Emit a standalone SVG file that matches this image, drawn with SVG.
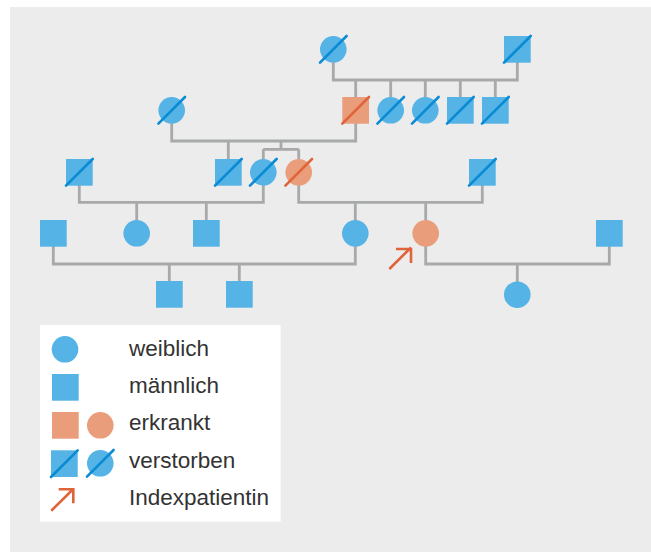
<svg xmlns="http://www.w3.org/2000/svg" width="651" height="552" viewBox="0 0 651 552">
<defs>
<style>
.m{fill:#55b3e6}
.f{fill:#e99d7a}
.ln{stroke:#a8a9ab;stroke-width:2.8;fill:none}
.d{stroke:#0a8bd4;stroke-width:2.6;stroke-linecap:round}
.do{stroke:#e0643a;stroke-width:2.6;stroke-linecap:round}
.ar{stroke:#e0643a;stroke-width:2.6;fill:none}
.t{font-family:"Liberation Sans",Arial,sans-serif;font-size:22.5px;fill:#333333}
</style>
</defs>
<rect x="0" y="0" width="651" height="552" fill="#ffffff"/>
<rect x="10" y="7" width="641" height="545" fill="#ebeceb"/>
<g id="connectors">
<path class="ln" d="M333.3,62 V80 H517.3 V62"/>
<path class="ln" d="M355.7,80 V97 M390.7,80 V97 M425.3,80 V97 M460.3,80 V97 M495.3,80 V97"/>
<path class="ln" d="M171.7,123 V141 H355.7 V123"/>
<path class="ln" d="M228.3,141 V159 M281,141 V149.3 M263.3,149.3 H298.7 M263.3,149.3 V159 M298.7,149.3 V159"/>
<path class="ln" d="M79.3,185 V202.3 H263.3 V185"/>
<path class="ln" d="M136.7,202.3 V221 M206.3,202.3 V221"/>
<path class="ln" d="M298.7,185 V202.3 H482.3 V185"/>
<path class="ln" d="M355.3,202.3 V221 M425.7,202.3 V221"/>
<path class="ln" d="M53.3,246 V264 H355.3 V246"/>
<path class="ln" d="M169.3,264 V281 M239.3,264 V281"/>
<path class="ln" d="M425.7,246 V264 H609.3 V246"/>
<path class="ln" d="M517.3,264 V282"/>
</g>
<g id="g1-f">
<circle class="m" cx="333.3" cy="49.3" r="13.3"/>
<line class="d" x1="320" y1="62.6" x2="346.6" y2="36"/>
</g>
<g id="g1-m">
<rect class="m" x="504" y="36" width="26.7" height="26.7"/>
<line class="d" x1="504" y1="62.7" x2="530.7" y2="36"/>
</g>
<g id="g2-f">
<circle class="m" cx="171.7" cy="110.3" r="13.3"/>
<line class="d" x1="158.4" y1="123.6" x2="185" y2="97"/>
</g>
<g id="g2-m-affected">
<rect class="f" x="342.3" y="97" width="26.7" height="26.7"/>
<line class="do" x1="342.3" y1="123.7" x2="369" y2="97"/>
</g>
<g id="g2-s1">
<circle class="m" cx="390.7" cy="110.3" r="13.3"/>
<line class="d" x1="377.4" y1="123.6" x2="404" y2="97"/>
</g>
<g id="g2-s2">
<circle class="m" cx="425.3" cy="110.3" r="13.3"/>
<line class="d" x1="412" y1="123.6" x2="438.6" y2="97"/>
</g>
<g id="g2-s3">
<rect class="m" x="447" y="97" width="26.7" height="26.7"/>
<line class="d" x1="447" y1="123.7" x2="473.7" y2="97"/>
</g>
<g id="g2-s4">
<rect class="m" x="482" y="97" width="26.7" height="26.7"/>
<line class="d" x1="482" y1="123.7" x2="508.7" y2="97"/>
</g>
<g id="g3-m1">
<rect class="m" x="66" y="159" width="26.7" height="26.7"/>
<line class="d" x1="66" y1="185.7" x2="92.7" y2="159"/>
</g>
<g id="g3-m2">
<rect class="m" x="215" y="159" width="26.7" height="26.7"/>
<line class="d" x1="215" y1="185.7" x2="241.7" y2="159"/>
</g>
<g id="g3-f1">
<circle class="m" cx="263.3" cy="172.3" r="13.3"/>
<line class="d" x1="250" y1="185.6" x2="276.6" y2="159"/>
</g>
<g id="g3-f2-affected">
<circle class="f" cx="298.7" cy="172.3" r="13.3"/>
<line class="do" x1="285.4" y1="185.6" x2="312" y2="159"/>
</g>
<g id="g3-m3">
<rect class="m" x="469" y="159" width="26.7" height="26.7"/>
<line class="d" x1="469" y1="185.7" x2="495.7" y2="159"/>
</g>
<g id="g4-m1"><rect class="m" x="40" y="220" width="26.7" height="26.7"/></g>
<g id="g4-f1"><circle class="m" cx="136.7" cy="233.3" r="13.3"/></g>
<g id="g4-m2"><rect class="m" x="193" y="220" width="26.7" height="26.7"/></g>
<g id="g4-f2"><circle class="m" cx="355.3" cy="233.3" r="13.3"/></g>
<g id="g4-index">
<circle class="f" cx="425.7" cy="233.3" r="13.3"/>
<path class="ar" d="M389.3,269 L411,247.5 M396,249 H411 V263"/>
</g>
<g id="g4-m3"><rect class="m" x="596" y="220" width="26.7" height="26.7"/></g>
<g id="g5-m1"><rect class="m" x="156" y="281" width="26.7" height="26.7"/></g>
<g id="g5-m2"><rect class="m" x="226" y="281" width="26.7" height="26.7"/></g>
<g id="g5-f1"><circle class="m" cx="517.3" cy="294.7" r="13.3"/></g>
<g id="legend">
<rect x="40" y="325" width="240.7" height="196.7" fill="#ffffff"/>
<circle class="m" cx="65" cy="349.3" r="13.3"/>
<rect class="m" x="52" y="374" width="26.7" height="26.7"/>
<rect class="f" x="52" y="412" width="26.7" height="26.7"/>
<circle class="f" cx="100.3" cy="425.3" r="13.3"/>
<rect class="m" x="51" y="450.3" width="26.7" height="26.7"/>
<line class="d" x1="51" y1="477" x2="77.7" y2="450.3"/>
<circle class="m" cx="100.3" cy="463.3" r="13.3"/>
<line class="d" x1="87" y1="476.6" x2="113.6" y2="450"/>
<path class="ar" d="M51.3,510.7 L73,489.3 M58.7,489.3 H73.3 V503.3"/>
<text class="t" x="129" y="356">weiblich</text>
<text class="t" x="129" y="393">männlich</text>
<text class="t" x="129" y="430">erkrankt</text>
<text class="t" x="129" y="468">verstorben</text>
<text class="t" x="129" y="505">Indexpatientin</text>
</g>
</svg>
